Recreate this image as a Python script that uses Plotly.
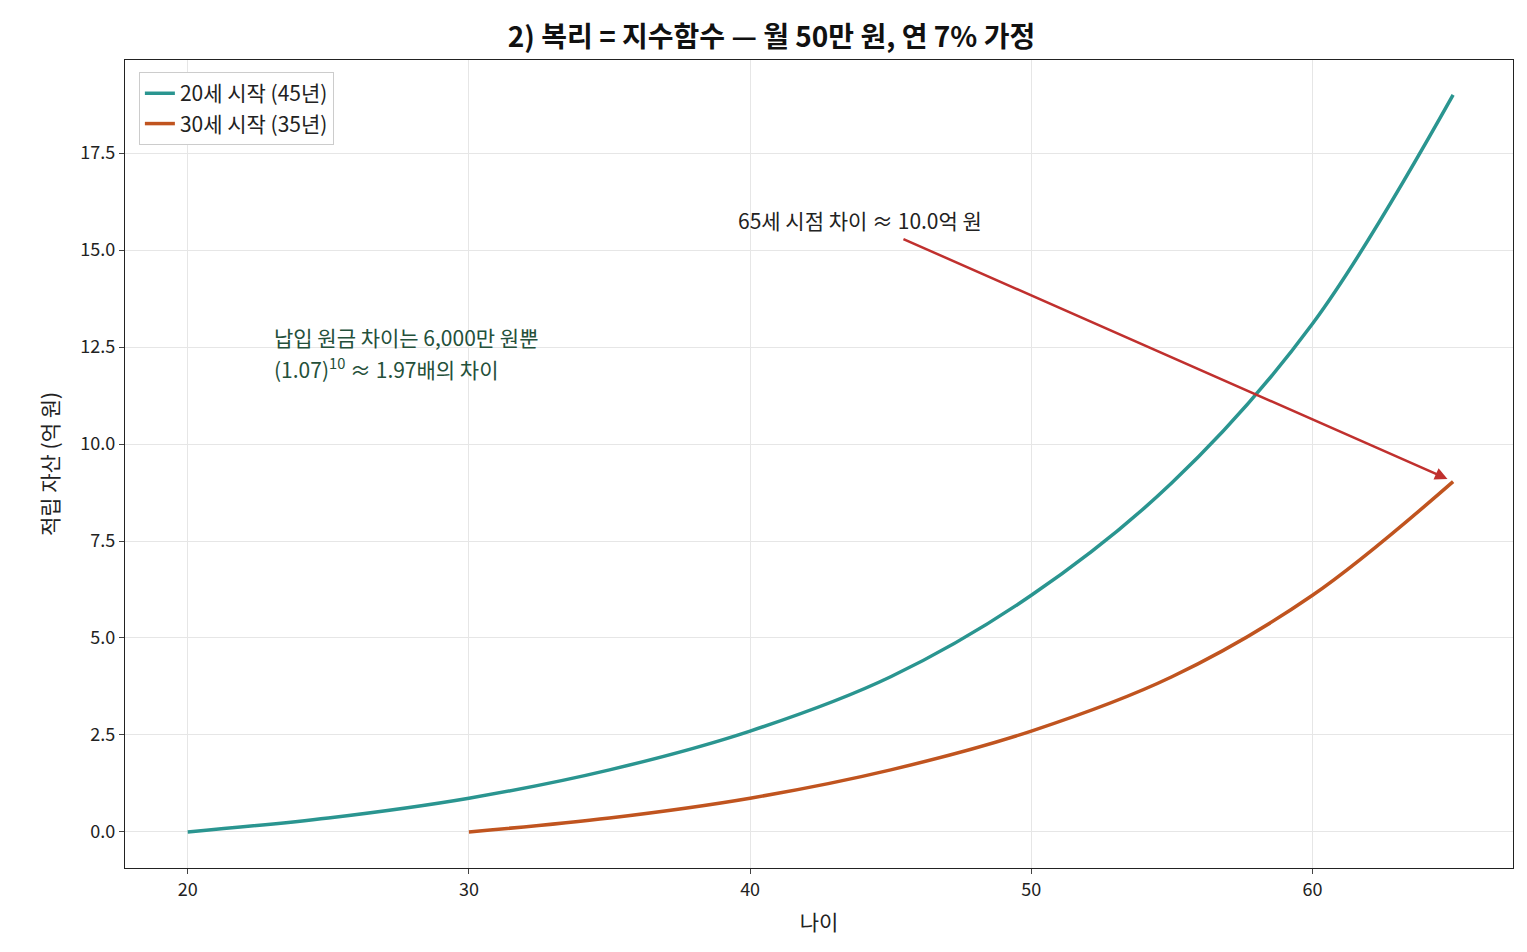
import plotly.graph_objects as go

ages20 = [20, 25, 30, 35, 40, 45, 50, 55, 60, 65]
vals20 = [0.0, 0.36, 0.87, 1.60, 2.60, 4.00, 6.10, 9.00, 13.1, 19.0]
ages30 = [30, 35, 40, 45, 50, 55, 60, 65]
vals30 = [0.0, 0.36, 0.87, 1.60, 2.60, 4.00, 6.10, 9.03]
names = ["20세 시작 (45년)", "30세 시작 (35년)"]
colors = ["#2a9590", "#c0541f"]

font = "Noto Sans CJK KR"
fig = go.Figure()
fig.add_trace(go.Scatter(x=ages20, y=vals20, mode="lines", name=names[0],
                         line=dict(color=colors[0], width=3.5, shape="spline")))
fig.add_trace(go.Scatter(x=ages30, y=vals30, mode="lines", name=names[1],
                         line=dict(color=colors[1], width=3.5, shape="spline")))

fig.add_annotation(x=64.8, y=9.1, ax=45.4, ay=15.3, xref="x", yref="y", axref="x", ayref="y",
                   text="", showarrow=True, arrowhead=2, arrowsize=1, arrowwidth=2.5,
                   arrowcolor="#c0302e")
fig.add_annotation(x=43.9, y=15.35, text="65세 시점 차이 ≈ 10.0억 원", showarrow=False,
                   yanchor="bottom", font=dict(size=21, color="#222"))
fig.add_annotation(x=23, y=12.75, xanchor="left", showarrow=False, align="left",
                   text="납입 원금 차이는 6,000만 원뿐", font=dict(size=21, color="#24503a"))
fig.add_annotation(x=23, y=11.95, xanchor="left", showarrow=False, align="left",
                   text="(1.07)<sup>10</sup> ≈ 1.97배의 차이", font=dict(size=21, color="#24503a"))

axis = dict(showline=True, linecolor="#222", linewidth=1.2, mirror=True, ticks="outside",
            gridcolor="#e6e6e6", zeroline=False, tickfont=dict(size=18, color="#222"))
fig.update_xaxes(axis, range=[17.77, 67.13], tickvals=[20, 30, 40, 50, 60],
                 title=dict(text="나이", font=dict(size=21)))
fig.update_yaxes(axis, range=[-0.93, 19.9], tickvals=[0, 2.5, 5, 7.5, 10, 12.5, 15, 17.5],
                 ticktext=["0.0", "2.5", "5.0", "7.5", "10.0", "12.5", "15.0", "17.5"],
                 title=dict(text="적립 자산 (억 원)", font=dict(size=21)))
fig.update_layout(
    width=1527, height=952, plot_bgcolor="white", paper_bgcolor="white",
    font=dict(family=font, color="#222"),
    title=dict(text="<b>2) 복리 = 지수함수 — 월 50만 원, 연 7% 가정</b>", x=0.5, y=0.98,
               xanchor="center", font=dict(size=28, color="#111")),
    margin=dict(l=117, r=22, t=52, b=92),
    legend=dict(x=0.01, y=0.985, bordercolor="#ccc", borderwidth=1, bgcolor="white",
                font=dict(size=21)),
)
fig.write_html("out.html")
